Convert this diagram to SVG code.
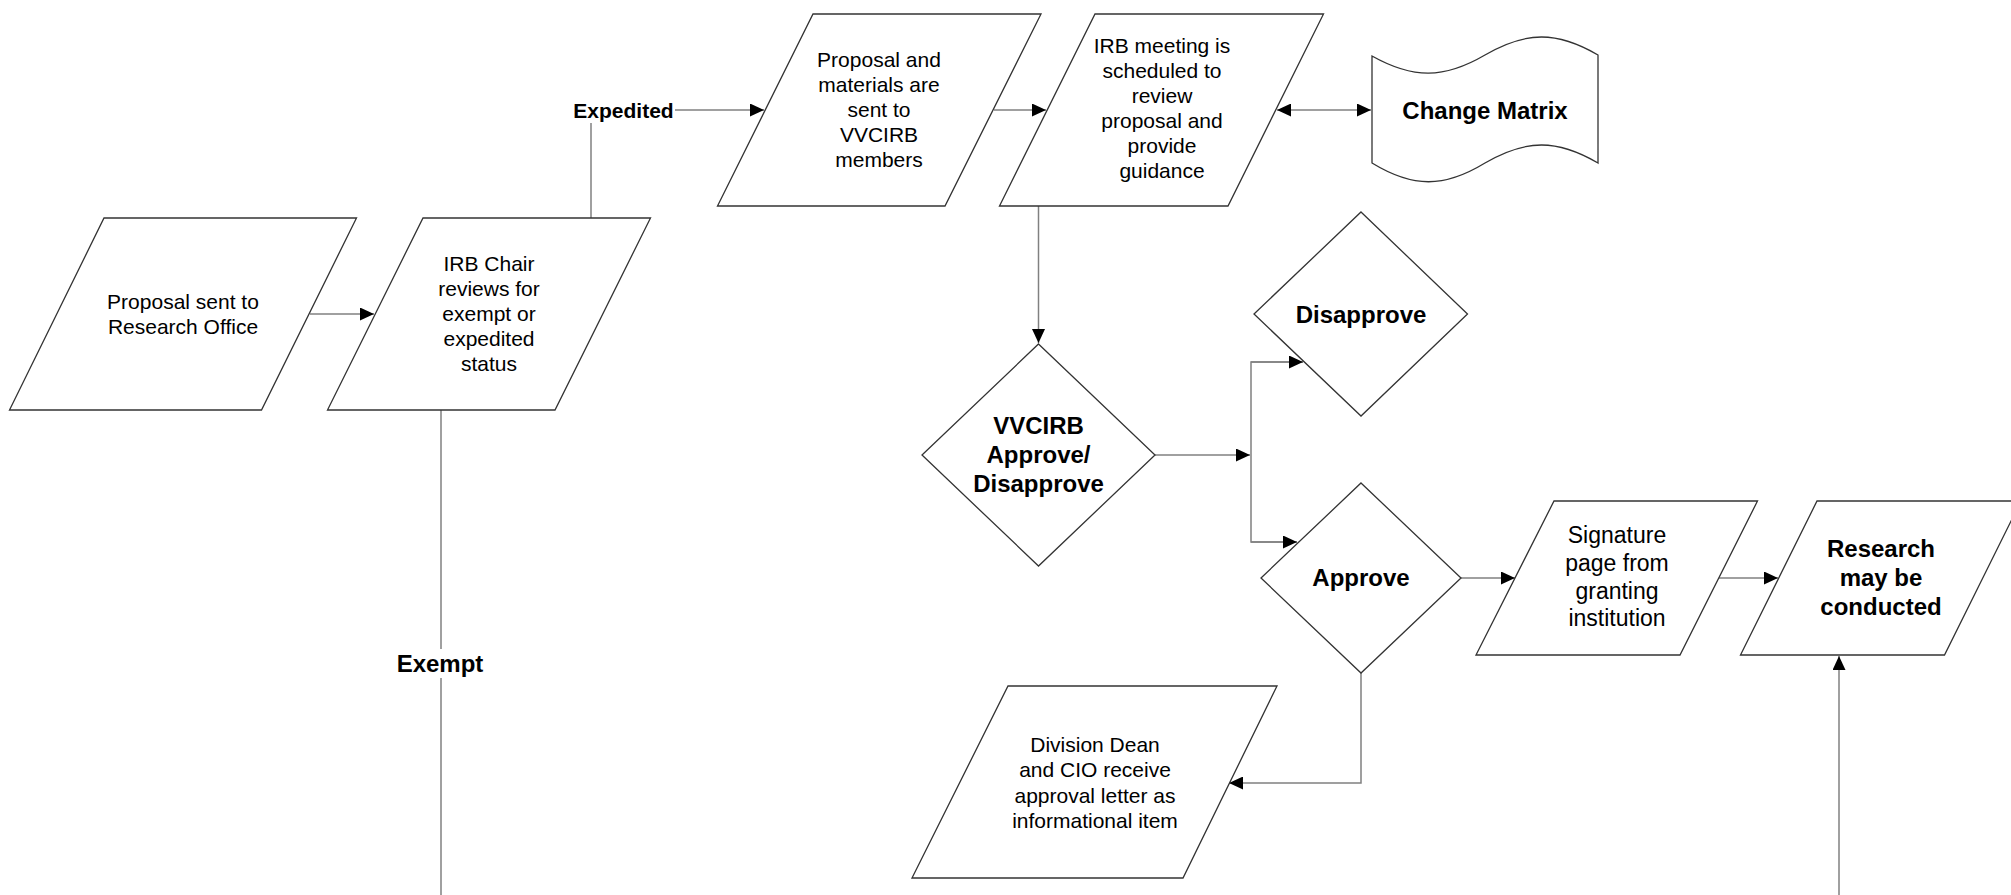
<svg xmlns="http://www.w3.org/2000/svg" width="2011" height="895" viewBox="0 0 2011 895">
<style>
.shape{fill:#fff;stroke:#333;stroke-width:1.3}
.conn{fill:none;stroke:#808080;stroke-width:1.5}
text{font-family:"Liberation Sans",Arial,sans-serif;fill:#000;text-anchor:middle;dominant-baseline:central}
.t{font-size:21px}
.ts{font-size:23px}
.b{font-size:24px;font-weight:bold}
.bs{font-size:21px;font-weight:bold}
</style>
<defs>
<marker id="arr" markerUnits="userSpaceOnUse" markerWidth="14" markerHeight="13" refX="14" refY="6.5" orient="auto-start-reverse">
<path d="M0,0 L14,6.5 L0,13 Z" fill="#000"/>
</marker>
</defs>
<rect width="2011" height="895" fill="#fff"/>
<g id="connectors">
<line class="conn" x1="310" y1="314" x2="374" y2="314" marker-end="url(#arr)"/>
<line class="conn" x1="591" y1="218" x2="591" y2="123"/>
<line class="conn" x1="675" y1="110" x2="764" y2="110" marker-end="url(#arr)"/>
<line class="conn" x1="441" y1="410" x2="441" y2="649"/>
<line class="conn" x1="441" y1="678" x2="441" y2="895"/>
<line class="conn" x1="994" y1="110" x2="1046" y2="110" marker-end="url(#arr)"/>
<line class="conn" x1="1277" y1="110" x2="1371" y2="110" marker-start="url(#arr)" marker-end="url(#arr)"/>
<line class="conn" x1="1038.5" y1="206" x2="1038.5" y2="343" marker-end="url(#arr)"/>
<line class="conn" x1="1155" y1="455" x2="1250" y2="455" marker-end="url(#arr)"/>
<polyline class="conn" points="1303,362 1251,362 1251,542 1297,542"/>
<line class="conn" x1="1251" y1="362" x2="1303" y2="362" marker-end="url(#arr)"/>
<line class="conn" x1="1251" y1="542" x2="1297" y2="542" marker-end="url(#arr)"/>
<line class="conn" x1="1461" y1="578" x2="1515" y2="578" marker-end="url(#arr)"/>
<line class="conn" x1="1719" y1="578" x2="1778" y2="578" marker-end="url(#arr)"/>
<line class="conn" x1="1839" y1="895" x2="1839" y2="656" marker-end="url(#arr)"/>
<polyline class="conn" points="1361,673 1361,783 1229,783" marker-end="url(#arr)"/>
</g>
<g id="n-proposal-sent">
<polygon class="shape" points="104,218 356.5,218 261.5,410 9.5,410"/>
<text class="t" x="183" y="301">Proposal sent to</text>
<text class="t" x="183" y="326">Research Office</text>
</g>
<g id="n-irb-chair">
<polygon class="shape" points="423,218 650.5,218 555,410 327.5,410"/>
<text class="t" x="489" y="263">IRB Chair</text>
<text class="t" x="489" y="288">reviews for</text>
<text class="t" x="489" y="313">exempt or</text>
<text class="t" x="489" y="338">expedited</text>
<text class="t" x="489" y="363">status</text>
</g>
<g id="l-expedited"><text class="bs" x="623.5" y="110">Expedited</text></g>
<g id="l-exempt"><text class="b" x="440" y="663">Exempt</text></g>
<g id="n-materials-sent">
<polygon class="shape" points="813,14 1041,14 945,206 717.5,206"/>
<text class="t" x="879" y="59">Proposal and</text>
<text class="t" x="879" y="84">materials are</text>
<text class="t" x="879" y="109">sent to</text>
<text class="t" x="879" y="134">VVCIRB</text>
<text class="t" x="879" y="159">members</text>
</g>
<g id="n-irb-meeting">
<polygon class="shape" points="1095,14 1323.5,14 1228,206 999.5,206"/>
<text class="t" x="1162" y="45">IRB meeting is</text>
<text class="t" x="1162" y="70">scheduled to</text>
<text class="t" x="1162" y="95">review</text>
<text class="t" x="1162" y="120">proposal and</text>
<text class="t" x="1162" y="145">provide</text>
<text class="t" x="1162" y="170">guidance</text>
</g>
<g id="n-change-matrix">
<path class="shape" d="M1372,56 C1413,79 1444,79 1485,55 C1526,31 1557,31 1598,55 L1598,163 C1557,139 1526,139 1485,163 C1444,188 1413,188 1372,163 Z"/>
<text class="b" x="1485" y="110">Change Matrix</text>
</g>
<g id="n-vvcirb">
<polygon class="shape" points="1038.5,344 1155,455 1038.5,566 922,455"/>
<text class="b" x="1038.5" y="425">VVCIRB</text>
<text class="b" x="1038.5" y="454">Approve/</text>
<text class="b" x="1038.5" y="483">Disapprove</text>
</g>
<g id="n-disapprove">
<polygon class="shape" points="1361,212 1467.5,314 1361,416 1254,314"/>
<text class="b" x="1361" y="314">Disapprove</text>
</g>
<g id="n-approve">
<polygon class="shape" points="1361,483 1461,578 1361,673 1261,578"/>
<text class="b" x="1361" y="577">Approve</text>
</g>
<g id="n-signature">
<polygon class="shape" points="1554,501 1757.5,501 1680,655 1476,655"/>
<text class="ts" x="1617" y="535">Signature</text>
<text class="ts" x="1617" y="563">page from</text>
<text class="ts" x="1617" y="591">granting</text>
<text class="ts" x="1617" y="618">institution</text>
</g>
<g id="n-research">
<polygon class="shape" points="1817,501 2021,501 1944.5,655 1740.5,655"/>
<text class="b" x="1881" y="548">Research</text>
<text class="b" x="1881" y="577">may be</text>
<text class="b" x="1881" y="606">conducted</text>
</g>
<g id="n-division">
<polygon class="shape" points="1008,686 1277,686 1183,878 912,878"/>
<text class="t" x="1095" y="744">Division Dean</text>
<text class="t" x="1095" y="769">and CIO receive</text>
<text class="t" x="1095" y="795">approval letter as</text>
<text class="t" x="1095" y="820">informational item</text>
</g>
</svg>
